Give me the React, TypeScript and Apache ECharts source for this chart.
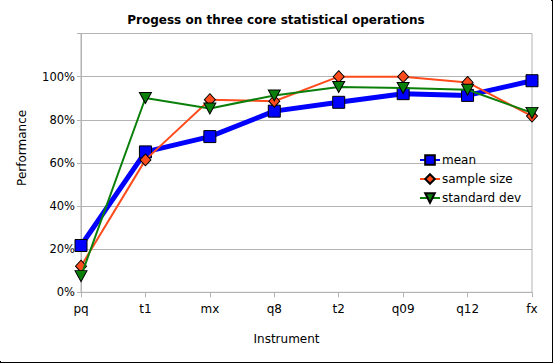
import React, { useEffect, useRef } from "react";
import * as echarts from "echarts";

const categories = ["pq", "t1", "mx", "q8", "t2", "q09", "q12", "fx"];
const meanValues = [0.217, 0.651, 0.722, 0.84, 0.881, 0.921, 0.913, 0.981];
const sampleSizeValues = [0.121, 0.614, 0.893, 0.886, 1.0, 1.0, 0.973, 0.817];
const stdDevValues = [0.075, 0.901, 0.852, 0.913, 0.952, 0.947, 0.939, 0.832];
const yTicks = [0, 0.2, 0.4, 0.6, 0.8, 1.0];

const FONT = "DejaVu Sans";

export default function App() {
  const ref = useRef<HTMLDivElement>(null);
  useEffect(() => {
    if (!ref.current) return;
    const chart = echarts.init(ref.current, undefined, { renderer: "svg" });
    chart.setOption({
      animation: false,
      backgroundColor: "#ffffff",
      textStyle: { fontFamily: FONT },
      title: {
        text: "Progess on three core statistical operations",
        left: 271,
        top: 9,
        textAlign: "center",
        textStyle: { fontFamily: FONT, fontSize: 12, fontWeight: "bold", color: "#000" },
      },
      legend: {
        orient: "vertical",
        left: 414,
        top: 149,
        itemWidth: 20,
        itemHeight: 12,
        itemGap: 7,
        textStyle: { fontFamily: FONT, fontSize: 12, color: "#000", padding: [0, 0, 0, -3] },
        data: ["mean", "sample size", "standard dev"],
      },
      grid: {
        left: 81,
        right: 19,
        top: 33.5,
        bottom: 68.7,
        show: true,
        borderColor: "#b3b3b3",
        borderWidth: 1,
      },
      xAxis: {
        type: "category",
        data: categories,
        boundaryGap: false,
        name: "Instrument",
        nameLocation: "middle",
        nameGap: 41,
        nameTextStyle: { fontFamily: FONT, fontSize: 12, color: "#000", padding: [0, 40, 0, 0] },
        axisLine: { lineStyle: { color: "#b3b3b3" } },
        axisTick: { show: true, length: 5, alignWithLabel: true, lineStyle: { color: "#b3b3b3" } },
        axisLabel: { fontFamily: FONT, fontSize: 12, color: "#000", margin: 11 },
      },
      yAxis: {
        type: "value",
        min: 0,
        max: 1.2,
        interval: 0.2,
        name: "Performance",
        nameLocation: "middle",
        nameGap: 53,
        nameTextStyle: { fontFamily: FONT, fontSize: 12, color: "#000", padding: [0, 0, 0, 30] },
        axisLine: { show: true, lineStyle: { color: "#b3b3b3" } },
        axisTick: { show: true, length: 4, lineStyle: { color: "#b3b3b3" } },
        splitLine: { lineStyle: { color: "#b3b3b3" } },
        axisLabel: {
          fontFamily: FONT,
          fontSize: 11.5,
          color: "#000",
          margin: 6,
          formatter: (v: number) =>
            yTicks.some((t) => Math.abs(t - v) < 1e-6) ? Math.round(v * 100) + "%" : "",
        },
      },
      series: [
        {
          name: "sample size",
          type: "line",
          data: sampleSizeValues,
          symbol: "diamond",
          symbolSize: [11, 12],
          lineStyle: { color: "#ff4c1c", width: 2 },
          itemStyle: { color: "#ff4c1c", borderColor: "#000", borderWidth: 1 },
          z: 3,
        },
        {
          name: "standard dev",
          type: "line",
          data: stdDevValues,
          symbol: "triangle",
          symbolRotate: 180,
          symbolSize: [12, 11],
          lineStyle: { color: "#0a7f0a", width: 2 },
          itemStyle: { color: "#0a7f0a", borderColor: "#000", borderWidth: 1 },
          z: 4,
        },
        {
          name: "mean",
          type: "line",
          data: meanValues,
          symbol: "rect",
          symbolSize: 12,
          lineStyle: { color: "#0000ff", width: 5 },
          itemStyle: { color: "#0000ff", borderColor: "#000", borderWidth: 1 },
          z: 2,
        },
      ],
    });
    return () => chart.dispose();
  }, []);
  return (
    <div
      style={{
        position: "fixed",
        left: 0,
        top: 0,
        width: 551,
        height: 361,
        border: "1px solid #000",
        background: "#fff",
      }}
    >
      <div ref={ref} style={{ width: 551, height: 361, marginLeft: -1, marginTop: -1 }} />
    </div>
  );
}
